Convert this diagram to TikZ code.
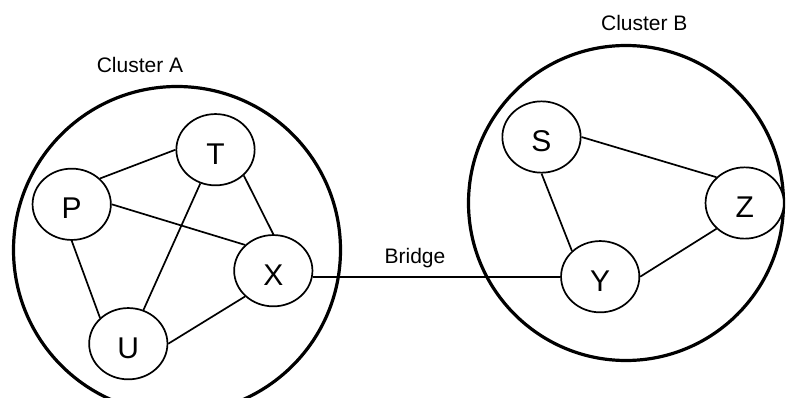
\documentclass[tikz,border=0pt]{standalone}
\usepackage{fontspec}
\setmainfont{Liberation Sans}
\usetikzlibrary{shapes.geometric}
\begin{document}
\begin{tikzpicture}[x=1pt,y=-1pt,
  vert/.style={ellipse,draw,line width=1.7pt,fill=white,minimum width=78.3pt,minimum height=71.3pt,inner sep=0pt,
    font=\fontsize{30}{30}\selectfont,text height=28.7pt,text depth=0pt},
  cluster/.style={draw,line width=3.2pt},
  edge/.style={line width=1.7pt},
  lbl/.style={font=\fontsize{21}{21}\selectfont,anchor=base,inner sep=0pt}]
\path[use as bounding box,clip] (0,0) rectangle (788,398);
\draw[cluster] (177,250) circle[radius=163.5];
\draw[cluster] (626,203) circle[radius=157.5];
\node[lbl] (la) at (140,72.7) {Cluster A};
\node[lbl] (lb) at (644.3,30.7) {Cluster B};
\node[lbl] (lbr) at (415,263.3) {Bridge};
\node[vert] (T) at (215.5,149.7) {T};
\node[vert] (P) at (71.7,204.3) {P};
\node[vert] (X) at (273.3,270.7) {X};
\node[vert] (U) at (128.3,343.7) {U};
\node[vert] (S) at (541.5,137) {S};
\node[vert] (Z) at (744.7,203) {Z};
\node[vert] (Y) at (600.2,276.7) {Y};
\draw[edge] (P.north east) -- (T.west);
\draw[edge] (P.east) -- (X.north west);
\draw[edge] (T) -- (U);
\draw[edge] (T.south east) -- (X.north);
\draw[edge] (P.south) -- (U.north west);
\draw[edge] (U.east) -- (X.south west);
\draw[edge] (S.east) -- (Z.north west);
\draw[edge] (S.south) -- (Y.north west);
\draw[edge] (Y.east) -- (Z.south west);
\draw[edge] (X.east |- Y.west) -- (Y.west);
\end{tikzpicture}
\end{document}
